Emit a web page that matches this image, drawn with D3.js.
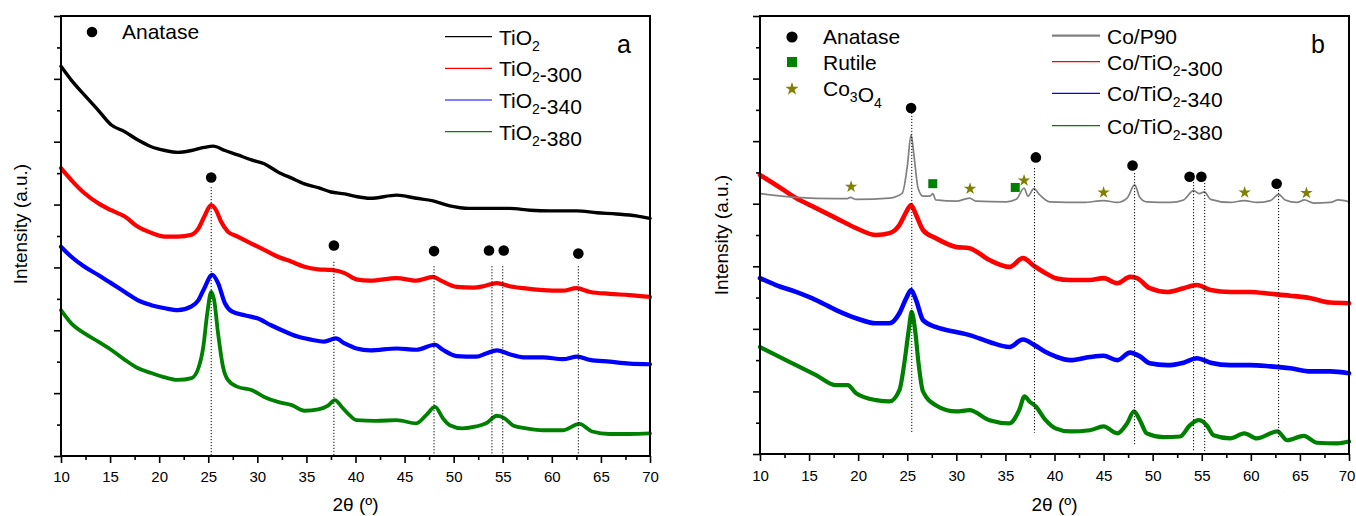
<!DOCTYPE html>
<html><head><meta charset="utf-8">
<script src="https://cdn.jsdelivr.net/npm/d3@7"></script>
<style>body{margin:0;background:#fff}svg text{font-family:Arial,"Liberation Sans",sans-serif}</style>
</head><body>
<svg id="c" width="1356" height="516"></svg>
<script>
// ---------- tick values ----------
const xTickValues = [10,15,20,25,30,35,40,45,50,55,60,65,70];
const xMinorTicks = [12.5,17.5,22.5,27.5,32.5,37.5,42.5,47.5,52.5,57.5,62.5,67.5];
const yMajorTicks = [0,1,2,3,4,5,6,7];
const yMinorTicks = [0.5,1.5,2.5,3.5,4.5,5.5,6.5];

// ---------- panel a series (2θ, intensity a.u.) ----------
const tio2 = [[10,6.20],[11.05,5.98],[12.4,5.74],[13.8,5.50],[15.1,5.27],[16.5,5.16],[17.8,5.03],[19.2,4.92],[20.6,4.86],[21.9,4.83],[23.3,4.86],[24.6,4.91],[25.5,4.93],[26.7,4.86],[28.0,4.79],[29.4,4.71],[30.7,4.65],[32.1,4.52],[33.5,4.42],[34.8,4.33],[36.2,4.27],[37.5,4.20],[38.9,4.17],[40.0,4.13],[41.5,4.10],[44.2,4.15],[46.2,4.10],[47.9,4.06],[49.6,3.98],[51.6,3.94],[53.7,3.94],[55.7,3.94],[57.8,3.91],[59.8,3.90],[62.5,3.90],[64.6,3.87],[66.6,3.85],[68.6,3.82],[70,3.78]];
const tio2_300 = [[10,4.58],[11.05,4.39],[12.4,4.18],[13.8,4.02],[15.1,3.91],[16.5,3.81],[17.8,3.65],[19.2,3.55],[20.6,3.49],[21.9,3.49],[23.3,3.52],[24.0,3.62],[24.6,3.81],[25.3,3.99],[25.8,3.91],[26.3,3.73],[27.0,3.57],[28.0,3.49],[29.4,3.38],[30.7,3.28],[32.1,3.17],[33.5,3.09],[34.8,3.01],[36.2,2.97],[37.5,2.96],[38.9,2.91],[40.1,2.81],[41.5,2.79],[44.2,2.83],[46.2,2.79],[47.9,2.85],[48.7,2.79],[50.3,2.69],[52.0,2.68],[53.0,2.70],[54.4,2.75],[55.7,2.70],[57.1,2.67],[59.1,2.64],[61.1,2.63],[62.5,2.67],[63.9,2.61],[65.9,2.58],[67.9,2.56],[70,2.53]];
const tio2_340 = [[10,3.33],[11.05,3.17],[12.4,3.01],[13.8,2.88],[15.1,2.75],[16.5,2.61],[17.8,2.48],[19.2,2.40],[20.6,2.35],[21.9,2.32],[23.3,2.38],[24.0,2.48],[24.6,2.67],[25.4,2.88],[26.0,2.75],[26.7,2.43],[27.4,2.30],[28.7,2.24],[30.0,2.19],[31.4,2.08],[32.8,1.98],[34.1,1.90],[35.5,1.85],[36.8,1.82],[38.0,1.87],[38.9,1.79],[40.1,1.71],[41.5,1.68],[44.2,1.71],[46.2,1.69],[48.1,1.77],[48.9,1.69],[50.3,1.59],[52.3,1.58],[53.3,1.63],[54.4,1.68],[55.7,1.62],[57.1,1.57],[59.1,1.57],[61.1,1.54],[62.6,1.58],[63.9,1.53],[65.9,1.50],[67.9,1.47],[70,1.46]];
const tio2_380 = [[10,2.32],[11.05,2.11],[12.4,1.95],[13.8,1.82],[15.1,1.69],[16.5,1.53],[17.8,1.40],[19.2,1.32],[20.6,1.25],[21.9,1.21],[23.3,1.24],[24.0,1.40],[24.5,1.74],[24.9,2.27],[25.3,2.61],[25.6,2.48],[26.0,1.95],[26.5,1.42],[27.0,1.21],[28.0,1.10],[29.4,1.05],[30.7,0.94],[32.1,0.86],[33.5,0.81],[34.8,0.72],[36.2,0.74],[37.2,0.80],[37.9,0.89],[38.6,0.78],[39.2,0.68],[40.1,0.57],[42.1,0.56],[44.2,0.57],[46.2,0.52],[47.2,0.65],[48.1,0.78],[48.9,0.60],[49.6,0.49],[50.9,0.44],[52.3,0.47],[53.3,0.52],[54.4,0.64],[55.2,0.60],[56.1,0.48],[57.4,0.44],[59.1,0.41],[61.1,0.41],[62.8,0.51],[64.1,0.39],[65.9,0.35],[67.9,0.35],[70,0.36]];

// panel a markers and reflection lines
const anataseA = [[25.3,4.43],[37.8,3.35],[48.0,3.26],[53.6,3.27],[55.1,3.27],[62.7,3.22]];
const refLinesA = [[25.3,4.28,0],[37.8,3.09,0],[48.0,3.02,0],[53.9,3.02,0],[55.0,3.02,0],[62.7,3.02,0]];

// ---------- panel b series ----------
const coP90 = [[10,4.16],[13.67,4.10],[17.75,4.08],[18.9,4.08],[19.2,4.10],[19.8,4.07],[23.2,4.09],[24.5,4.17],[25.0,4.59],[25.39,5.10],[25.7,4.75],[26.1,4.25],[26.6,4.12],[27.3,4.12],[27.6,4.16],[27.9,4.06],[30.0,4.04],[31.34,4.09],[32.0,4.04],[35.1,4.03],[36.1,4.07],[36.9,4.25],[37.3,4.12],[37.9,4.24],[38.5,4.14],[39.5,4.03],[42.96,4.02],[45.0,4.05],[46.4,4.02],[47.4,4.09],[48.16,4.30],[48.7,4.10],[49.4,4.03],[51.8,4.02],[53.15,4.06],[54.17,4.21],[54.75,4.16],[55.26,4.19],[55.9,4.07],[57.9,4.02],[59.34,4.05],[60.6,4.02],[62.0,4.05],[62.83,4.15],[63.5,4.06],[64.7,4.02],[65.45,4.06],[66.4,4.01],[68.1,4.02],[68.9,4.06],[70,4.03]];
const coTiO2_300 = [[10,4.46],[11.63,4.30],[13.67,4.09],[15.71,3.93],[17.75,3.77],[19.79,3.61],[21.82,3.50],[23.2,3.53],[24.2,3.66],[24.9,3.87],[25.39,3.98],[25.9,3.82],[26.6,3.58],[27.9,3.45],[29.98,3.31],[31.34,3.29],[33.37,3.10],[35.41,2.99],[36.78,3.13],[37.96,3.00],[39.1,2.89],[40.1,2.81],[41.6,2.78],[43.6,2.78],[45.0,2.81],[46.4,2.73],[47.7,2.83],[48.4,2.81],[49.7,2.65],[51.5,2.59],[53.15,2.65],[54.5,2.70],[55.9,2.62],[57.9,2.59],[59.9,2.59],[62.0,2.56],[64.03,2.53],[66.1,2.49],[68.1,2.42],[70,2.41]];
const coTiO2_340 = [[10,2.81],[11.63,2.70],[13.67,2.59],[15.71,2.46],[17.75,2.30],[19.79,2.17],[21.82,2.09],[23.2,2.09],[24.2,2.25],[24.9,2.49],[25.39,2.62],[25.9,2.46],[26.6,2.14],[27.9,2.03],[29.98,1.95],[31.34,1.90],[33.37,1.79],[35.41,1.71],[36.78,1.83],[37.96,1.74],[39.1,1.63],[40.1,1.56],[41.6,1.50],[43.6,1.55],[45.0,1.57],[46.4,1.50],[47.7,1.62],[48.7,1.56],[49.7,1.45],[51.5,1.42],[53.15,1.46],[54.5,1.53],[55.9,1.46],[57.9,1.42],[59.9,1.42],[62.0,1.40],[64.03,1.37],[66.1,1.32],[68.1,1.32],[70,1.29]];
const coTiO2_380 = [[10,1.71],[11.63,1.58],[13.67,1.42],[15.71,1.26],[17.75,1.10],[18.94,1.10],[19.79,0.97],[21.82,0.86],[23.2,0.84],[24.2,1.02],[24.7,1.45],[25.15,1.98],[25.45,2.27],[25.8,1.98],[26.15,1.45],[26.6,1.00],[27.9,0.78],[29.98,0.68],[31.34,0.70],[33.37,0.54],[35.41,0.49],[36.4,0.70],[36.95,0.92],[37.45,0.84],[38.1,0.76],[39.1,0.54],[40.1,0.41],[41.6,0.36],[43.6,0.38],[45.0,0.44],[46.4,0.33],[47.4,0.49],[48.1,0.68],[48.7,0.54],[49.4,0.33],[51.1,0.27],[52.8,0.28],[53.8,0.46],[54.7,0.54],[55.5,0.46],[56.2,0.30],[57.9,0.25],[59.34,0.33],[60.6,0.25],[62.7,0.36],[63.7,0.22],[65.4,0.29],[66.75,0.18],[68.8,0.17],[70,0.20]];

// panel b markers and reflection lines
const anataseB = [[25.39,5.53],[38.1,4.74],[47.95,4.61],[53.76,4.43],[54.96,4.43],[62.63,4.32]];
const rutileB = [[27.6,4.32],[36.0,4.26]];
const co3o4B = [[19.28,4.27],[31.4,4.24],[36.9,4.37],[45.0,4.18],[59.37,4.18],[65.66,4.17]];
const refLinesB = [[25.46,5.50,0.35],[37.96,4.57,0.34],[48.16,4.49,0.13],[54.17,4.49,0.03],[55.3,4.38,0.03],[62.83,4.22,0.27]];

// legend labels ("_" marks a subscript character)
const legendA = ["TiO_2","TiO_2-300","TiO_2-340","TiO_2-380"];
const legendB = ["Co/P90","Co/TiO_2-300","Co/TiO_2-340","Co/TiO_2-380"];
const phaseLabels = ["Anatase","Rutile","Co_3O_4"];
const xTitle = "2\u03b8 (\u00ba)";
const yTitle = "Intensity (a.u.)";

// ---------- drawing ----------
const svg = d3.select("#c");
const FONT = 'Arial,"Liberation Sans",sans-serif';

function rich(textSel, label, size) {
  const sub = Math.round(size*0.66), shift = Math.round(size*0.3);
  let i = 0, buf = "";
  const flush = () => { if (buf) { textSel.append("tspan").text(buf); buf = ""; } };
  while (i < label.length) {
    if (label[i] === "_") {
      flush();
      textSel.append("tspan").attr("font-size", sub).attr("dy", shift).text(label[i+1]);
      textSel.append("tspan").attr("dy", -shift).text("");
      i += 2;
    } else { buf += label[i]; i++; }
  }
  flush();
}

function panel(cfg) {
  const g = svg.append("g");
  const x = d3.scaleLinear().domain([10,70]).range([cfg.left, cfg.right]);
  const y = d3.scaleLinear().domain([0,7]).range([cfg.bottom, cfg.top]);
  const line = d3.line().x(d => x(d[0])).y(d => y(d[1])).curve(d3.curveMonotoneX);

  cfg.series.forEach(s => {
    g.append("path").attr("d", line(s.data)).attr("fill","none")
      .attr("stroke", s.color).attr("stroke-width", s.width)
      .attr("stroke-linejoin","round").attr("stroke-linecap","round");
  });

  // reflection lines
  g.selectAll(null).data(cfg.refLines).join("line")
    .attr("x1", d => x(d[0])).attr("x2", d => x(d[0]))
    .attr("y1", d => y(d[1])).attr("y2", d => y(d[2]))
    .attr("stroke","#000").attr("stroke-width",1).attr("stroke-dasharray","1.2,1.8");

  // markers
  g.selectAll(null).data(cfg.anatase).join("circle")
    .attr("cx", d => x(d[0])).attr("cy", d => y(d[1])).attr("r", 5.3).attr("fill","#000");
  if (cfg.rutile) g.selectAll(null).data(cfg.rutile).join("rect")
    .attr("x", d => x(d[0]) - 4.5).attr("y", d => y(d[1]) - 4.5)
    .attr("width", 9).attr("height", 9).attr("fill","#008000");
  if (cfg.co3o4) g.selectAll(null).data(cfg.co3o4).join("path")
    .attr("transform", d => `translate(${x(d[0])},${y(d[1])})`)
    .attr("d", d3.symbol(d3.symbolStar, 48)()).attr("fill","#808000");

  // axes
  const ax = g.append("g").attr("transform",`translate(0,${cfg.bottom})`)
    .call(d3.axisBottom(x).tickValues(xTickValues).tickSize(7).tickPadding(cfg.pad).tickFormat(d3.format("d")));
  const axm = g.append("g").attr("transform",`translate(0,${cfg.bottom})`)
    .call(d3.axisBottom(x).tickValues(xMinorTicks).tickSize(4).tickFormat(""));
  const ay = g.append("g").attr("transform",`translate(${cfg.left},0)`)
    .call(d3.axisLeft(y).tickValues(yMajorTicks).tickSize(7).tickFormat(""));
  const aym = g.append("g").attr("transform",`translate(${cfg.left},0)`)
    .call(d3.axisLeft(y).tickValues(yMinorTicks).tickSize(4).tickFormat(""));
  [ax, axm, ay, aym].forEach(a => {
    a.select(".domain").remove();
    a.selectAll(".tick line").attr("stroke","#000").attr("stroke-width",1.6);
  });
  ax.selectAll("text").attr("font-size",15).attr("font-family",FONT).attr("fill","#000");
  if (cfg.lastShift) ax.selectAll(".tick text").filter(d => d === 70).attr("dx", cfg.lastShift);

  // frame
  g.append("rect").attr("x", cfg.left).attr("y", cfg.top)
    .attr("width", cfg.right - cfg.left).attr("height", cfg.bottom - cfg.top)
    .attr("fill","none").attr("stroke","#000").attr("stroke-width",2);

  // titles
  g.append("text").attr("x", (cfg.left+cfg.right)/2).attr("y", 511)
    .attr("text-anchor","middle").attr("font-size",19).text(xTitle);
  g.append("text").attr("transform",`translate(${cfg.yTitleX},${cfg.yTitleY}) rotate(-90)`)
    .attr("text-anchor","middle").attr("font-size",19).text(yTitle);

  // panel letter
  g.append("text").attr("x", cfg.letterX).attr("y", 53).attr("font-size",25).text(cfg.letter);

  // series legend
  cfg.series.forEach((s, i) => {
    const ly = cfg.legRows[i];
    g.append("line").attr("x1", cfg.legX1).attr("x2", cfg.legX2).attr("y1", ly).attr("y2", ly)
      .attr("stroke", s.color).attr("stroke-width", s.legW);
    const t = g.append("text").attr("x", cfg.legX2 + 7).attr("y", ly + 8).attr("font-size",21);
    rich(t, cfg.legLabels[i], 21);
  });
  return g;
}

const ga = panel({
  left:61, right:650, top:16, bottom:456, pad:8.5,
  series:[
    {data:tio2, color:"#000000", width:3.4, legW:1.2},
    {data:tio2_300, color:"#ff0000", width:4.2, legW:1.2},
    {data:tio2_340, color:"#0000ff", width:4.2, legW:1.2},
    {data:tio2_380, color:"#008000", width:3.8, legW:1.2}
  ],
  refLines: refLinesA, anatase: anataseA,
  yTitleX:27, yTitleY:224, letter:"a", letterX:617,
  legRows:[36.7,68.3,100,131.7], legX1:445, legX2:492, legLabels:legendA
});
// phase legend a
ga.append("circle").attr("cx",92).attr("cy",32).attr("r",5.3).attr("fill","#000");
ga.append("text").attr("x",122).attr("y",39).attr("font-size",21).text(phaseLabels[0]);

const gb = panel({
  left:760, right:1349, top:16, bottom:454, pad:9, lastShift:-2.5,
  series:[
    {data:coTiO2_300, color:"#ff0000", width:4.6, legW:1.2},
    {data:coTiO2_340, color:"#0000ff", width:4.6, legW:1.2},
    {data:coTiO2_380, color:"#008000", width:4.2, legW:1.2},
    {data:coP90, color:"#808080", width:1.7, legW:2.2}
  ],
  refLines: refLinesB, anatase: anataseB, rutile: rutileB, co3o4: co3o4B,
  yTitleX:728, yTitleY:235, letter:"b", letterX:1311,
  legRows:[61.7,93.3,125.7,35.7], legX1:1052, legX2:1100,
  legLabels:[legendB[1],legendB[2],legendB[3],legendB[0]]
});
// phase legend b
gb.append("circle").attr("cx",792).attr("cy",37).attr("r",5.6).attr("fill","#000");
gb.append("rect").attr("x",787).attr("y",57).attr("width",10).attr("height",10).attr("fill","#008000");
gb.append("path").attr("transform","translate(792,89)").attr("d", d3.symbol(d3.symbolStar,55)()).attr("fill","#808000");
[44,70,96].forEach((by,i) => {
  const t = gb.append("text").attr("x",823).attr("y",by).attr("font-size",21);
  rich(t, phaseLabels[i], 21);
});
</script>
</body></html>
